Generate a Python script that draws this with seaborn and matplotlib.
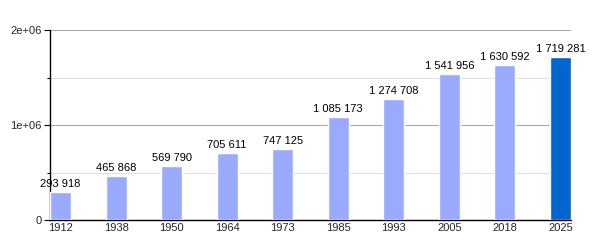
import matplotlib
matplotlib.use("Agg")
import matplotlib.pyplot as plt
import seaborn as sns
import pandas as pd
from matplotlib.ticker import FixedLocator

years = ["1912", "1938", "1950", "1964", "1973", "1985", "1993", "2005", "2018", "2025"]
population = [293918, 465868, 569790, 705611, 747125, 1085173, 1274708, 1541956, 1630592, 1719281]
bar_colors = ["#99aaff"] * 9 + ["#0066cc"]
ytick_labels = ["0", "1e+06", "2e+06"]

sns.set_theme(style="white")
plt.rcParams['font.family'] = ['Liberation Sans', 'DejaVu Sans']

df = pd.DataFrame({"year": years, "pop": population})

fig = plt.figure(figsize=(6, 2.5), dpi=100)
ax = fig.add_axes([50/600, 30/250, 521/600, 190/250])

sns.barplot(data=df, x="year", y="pop", hue="year", palette=bar_colors,
            legend=False, width=0.38, saturation=1, ax=ax, zorder=3)

ax.set_ylim(0, 2e6)
ax.set_xlim(-0.19, 9.19)
ax.yaxis.set_major_locator(FixedLocator([0, 1e6, 2e6]))
ax.set_yticklabels(ytick_labels)
ax.yaxis.set_minor_locator(FixedLocator([5e5, 1.5e6]))
ax.grid(axis="y", which="major", color="#aaaaaa", linewidth=0.8, zorder=0)
ax.grid(axis="y", which="minor", color="#e0e0e0", linewidth=0.8, zorder=0)
ax.set_axisbelow(True)

for s in ["top", "right"]:
    ax.spines[s].set_visible(False)
for s in ["left", "bottom"]:
    ax.spines[s].set_color("black")
    ax.spines[s].set_linewidth(1)

ax.tick_params(axis="y", which="major", left=True, length=4, width=0.8, color="black", labelsize=8, pad=2)
ax.tick_params(axis="y", which="minor", left=True, length=2, width=0.8, color="black")
ax.tick_params(axis="x", bottom=False, length=0, labelsize=8, pad=2)
ax.set_xlabel("")
ax.set_ylabel("")

for i, v in enumerate(population):
    label = f"{v:,}".replace(",", " ")
    ax.text(i, v + 3e4, label, ha="center", va="bottom", fontsize=8, color="black")

fig.savefig("out.png", dpi=100)
